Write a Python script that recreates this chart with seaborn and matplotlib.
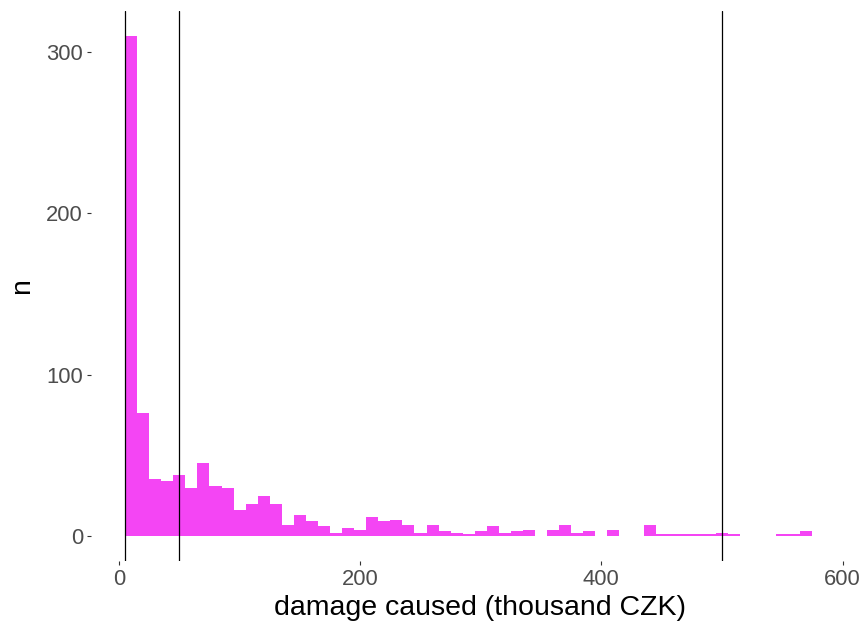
import numpy as np
import pandas as pd
import matplotlib
matplotlib.use("Agg")
import matplotlib.pyplot as plt
import seaborn as sns

# Histogram of damage caused, counts per 10k-CZK bin starting at 5
bin_start = 5
bin_width = 10
counts = [310, 76, 35, 34, 38, 30, 45, 31, 30, 16,
          20, 25, 20, 7, 13, 9, 6, 2, 5, 4,
          12, 9, 10, 7, 2, 7, 3, 2, 1, 3,
          6, 2, 3, 4, 0, 4, 7, 2, 3, 0,
          4, 0, 0, 7, 1, 1, 1, 1, 1, 2,
          1, 0, 0, 0, 1, 1, 3]
thresholds = [5, 50, 500]
x_ticks = [0, 200, 400, 600]
y_ticks = [0, 100, 200, 300]

bin_end = bin_start + bin_width * len(counts)
centers = bin_start + bin_width * (np.arange(len(counts)) + 0.5)
df = pd.DataFrame({"damage": centers, "n": counts})

sns.set_theme(style="white")
plt.rcParams["font.family"] = ["Liberation Sans", "DejaVu Sans"]

fig = plt.figure(figsize=(8.66, 6.23), dpi=100)
ax = fig.add_axes([0.1047, 0.0995, 0.8731, 0.8835])

sns.histplot(data=df, x="damage", weights="n", binwidth=bin_width,
             binrange=(bin_start, bin_end), ax=ax,
             color="#F445F4", alpha=1.0, linewidth=0, edgecolor="none")

for t in thresholds:
    ax.axvline(t, color="black", linewidth=0.9, zorder=3)

xr = bin_end - bin_start
ax.set_xlim(bin_start - 0.05 * xr, bin_end + 0.05 * xr)
ymax = max(counts)
ax.set_ylim(-0.05 * ymax, ymax * 1.05)

ax.set_xticks(x_ticks)
ax.set_yticks(y_ticks)
for s in ax.spines.values():
    s.set_visible(False)
ax.grid(False)
ax.tick_params(axis="both", which="major", length=3, width=0.8, color="#333333",
               labelsize=15.8, labelcolor="#4D4D4D", pad=2.5,
               bottom=True, left=True)

ax.set_xlabel("damage caused (thousand CZK)", fontsize=20.5, color="black")
ax.xaxis.set_label_coords(0.515, -0.061, transform=ax.transAxes)
ax.xaxis.label.set_va("top")
ax.set_ylabel("n", fontsize=20.5, color="black", labelpad=8)

fig.savefig("out.png", dpi=100)
